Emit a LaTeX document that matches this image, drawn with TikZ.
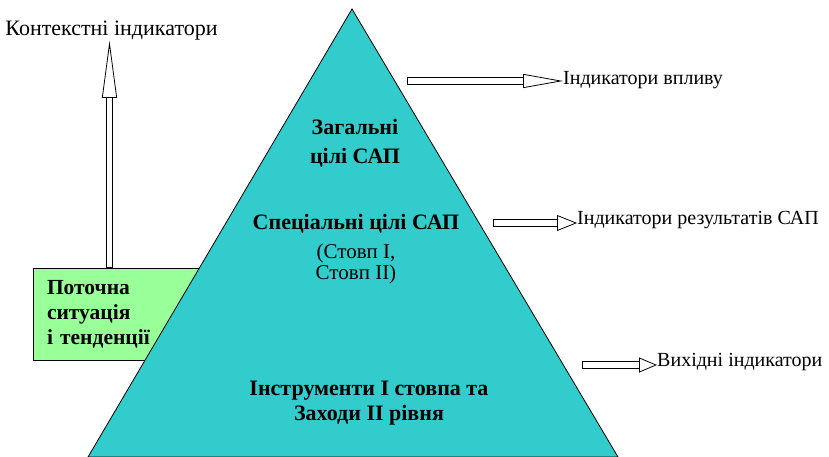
\documentclass[tikz,border=0pt]{standalone}
\usepackage{fontspec}
\setmainfont{Liberation Serif}
\newfontfamily\serifrm{Liberation Serif}
\usetikzlibrary{arrows.meta}
\definecolor{pyramid}{HTML}{33CCCC}
\definecolor{boxgreen}{HTML}{99FF99}
\tikzset{hollow/.style 2 args={draw=black,line width=0.8pt,double=white,double distance=5.5pt,
    {Bar[width=7.1pt,line width=0.8pt]}-{Triangle[open,length=#1,width=#2,line width=0.8pt]}},
  indicator/.style={inner sep=0pt,font=\serifrm\fontsize{20}{24}\selectfont},
  inside/.style={inner sep=0pt,align=center,font=\serifrm\fontsize{22}{29}\selectfont\bfseries}
}
\begin{document}
\begin{tikzpicture}[x=1pt,y=-1pt]
            \useasboundingbox (0,0) rectangle (829,457);
            \node[draw=black,fill=boxgreen,line width=0.8pt,minimum width=217pt,minimum height=92pt,
              text width=189pt,inner xsep=14pt,align=left,font=\serifrm\fontsize{21.5}{25}\selectfont\bfseries]
              (now) at (141.5,314) {Поточна\\ситуація\\і тенденції};
            \coordinate (apex) at (352,9);
            \coordinate (left) at (88,457);
            \coordinate (right) at (618,457);
            \draw[fill=pyramid,line width=0.8pt] (apex) -- (left) -- (right) -- cycle;
            \node[indicator,font=\serifrm\fontsize{22}{24}\selectfont] (context) at (111.5,31) {Контекстні індикатори};
            \node[indicator,anchor=west] (impact) at (563,80) {Індикатори впливу};
            \node[indicator,anchor=west] (result) at (577,220) {Індикатори результатів САП};
            \node[indicator,anchor=west] (output) at (657,362) {Вихідні індикатори};
            \node[inside] (general) at (355,143) {Загальні\\цілі САП};
            \node[inside] (special) at (356,224) {Спеціальні цілі САП};
            \node[inside,font=\serifrm\fontsize{21}{21}\selectfont] (pillars) at (356,264) {(Стовп І,\\Стовп ІІ)};
            \node[inside,font=\serifrm\fontsize{22}{25}\selectfont\bfseries] (tools) at (369,403) {Інструменти І стовпа та\\Заходи ІІ рівня};
            \coordinate (a1) at (407,81);
            \coordinate (a2) at (493,223);
            \coordinate (a3) at (582,365);
            \draw[hollow={57pt}{15pt}] (now.north -| 109.5,0) -- (109.5,43 |- context.south);
            \draw[hollow={40pt}{14pt}] (a1) -- (a1 -| impact.west);
            \draw[hollow={20pt}{16pt}] (a2) -- (a2 -| result.west);
            \draw[hollow={18pt}{15pt}] (a3) -- (a3 -| output.west);
          \end{tikzpicture}
\end{document}
